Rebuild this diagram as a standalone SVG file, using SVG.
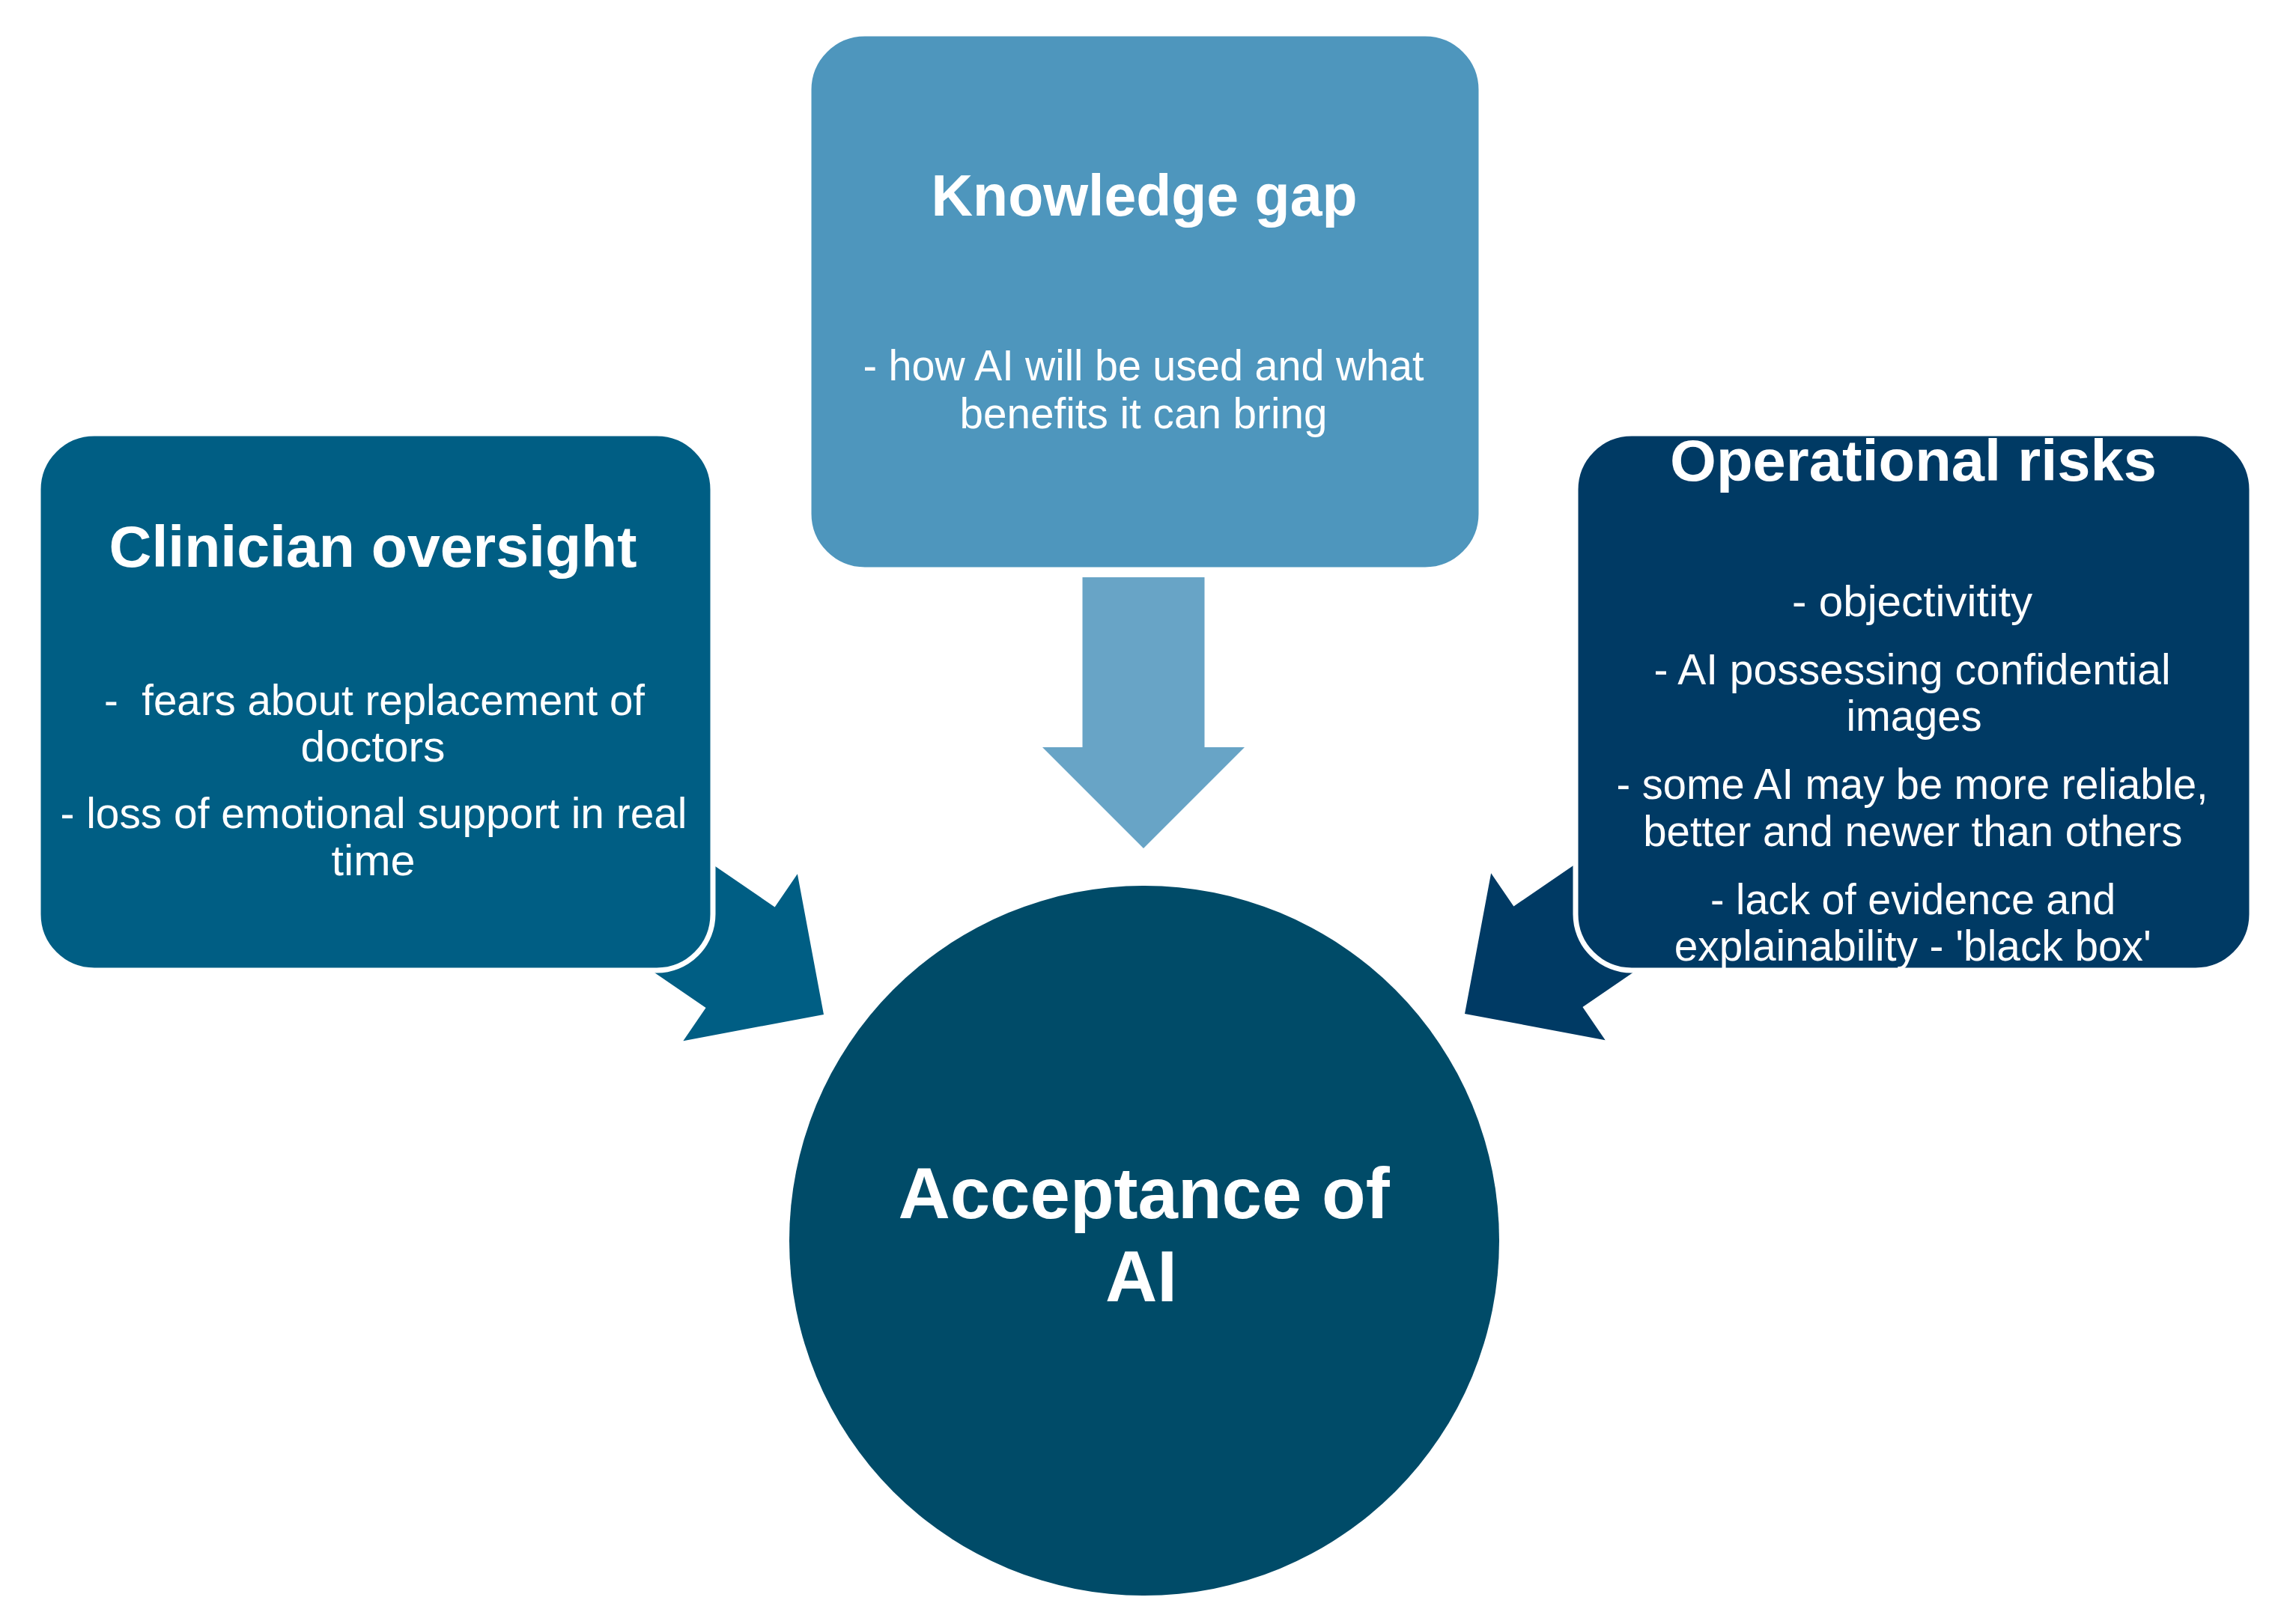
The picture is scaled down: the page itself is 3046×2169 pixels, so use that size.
<svg xmlns="http://www.w3.org/2000/svg" width="3046" height="2169" viewBox="0 0 3046 2169">
  <style>
    .box { stroke: #ffffff; stroke-width: 7; }
    .t { fill: #ffffff; font-family: "Liberation Sans", Arial, sans-serif; text-anchor: middle; }
    .title { font-size: 78px; font-weight: bold; }
    .body { font-size: 57px; }
    .big { font-size: 96px; font-weight: bold; }
  </style>
  <defs>
    <path id="arrowShape" d="M0,-81.5 H227 V-135 L362,0 L227,135 V81.5 H0 Z"/>
  </defs>
  <rect width="3046" height="2169" fill="#ffffff"/>

  <g id="connectors">
    <use href="#arrowShape" fill="#68A4C6" transform="translate(1527,771) rotate(90)"/>
    <use href="#arrowShape" fill="#005E84" transform="translate(801.3,1150.5) rotate(34.4)"/>
    <use href="#arrowShape" fill="#003A64" transform="translate(2254.7,1149.5) rotate(145.6)"/>
  </g>

  <g id="knowledge-gap">
    <rect class="box" x="1080" y="45" width="898" height="716" rx="75" fill="#4E96BD"/>
    <text class="t title" x="1528" y="288" textLength="569" lengthAdjust="spacingAndGlyphs">Knowledge gap</text>
    <text class="t body" x="1527" y="508" textLength="749" lengthAdjust="spacingAndGlyphs">- how AI will be used and what</text>
    <text class="t body" x="1527" y="572" textLength="491" lengthAdjust="spacingAndGlyphs">benefits it can bring</text>
  </g>

  <g id="clinician-oversight">
    <rect class="box" x="51" y="579" width="901" height="717" rx="75" fill="#005E84"/>
    <text class="t title" x="498" y="757" textLength="705" lengthAdjust="spacingAndGlyphs">Clinician oversight</text>
    <text class="t body" x="500" y="955" xml:space="preserve" textLength="722" lengthAdjust="spacingAndGlyphs">-  fears about replacement of</text>
    <text class="t body" x="498" y="1017" textLength="193" lengthAdjust="spacingAndGlyphs">doctors</text>
    <text class="t body" x="499" y="1106" textLength="837" lengthAdjust="spacingAndGlyphs">- loss of emotional support in real</text>
    <text class="t body" x="498.6" y="1169" textLength="112" lengthAdjust="spacingAndGlyphs">time</text>
  </g>

  <g id="operational-risks">
    <rect class="box" x="2104" y="579" width="903" height="717" rx="75" fill="#003A64"/>
    <text class="t title" x="2555" y="642" textLength="650" lengthAdjust="spacingAndGlyphs">Operational risks</text>
    <text class="t body" x="2553.6" y="823" textLength="321" lengthAdjust="spacingAndGlyphs">- objectivitity</text>
    <text class="t body" x="2553.6" y="914" textLength="690" lengthAdjust="spacingAndGlyphs">- AI possessing confidential</text>
    <text class="t body" x="2556" y="976" textLength="181" lengthAdjust="spacingAndGlyphs">images</text>
    <text class="t body" x="2553.6" y="1067" textLength="790" lengthAdjust="spacingAndGlyphs">- some AI may be more reliable,</text>
    <text class="t body" x="2554.3" y="1130" textLength="720" lengthAdjust="spacingAndGlyphs">better and newer than others</text>
    <text class="t body" x="2554.6" y="1221" textLength="541" lengthAdjust="spacingAndGlyphs">- lack of evidence and</text>
    <text class="t body" x="2554.3" y="1283" textLength="637" lengthAdjust="spacingAndGlyphs">explainability - 'black box'</text>
  </g>

  <g id="acceptance-of-ai">
    <circle cx="1528" cy="1657" r="474" fill="#004B68"/>
    <text class="t big" x="1527.5" y="1627">Acceptance of</text>
    <text class="t big" x="1524" y="1738">AI</text>
  </g>
</svg>
